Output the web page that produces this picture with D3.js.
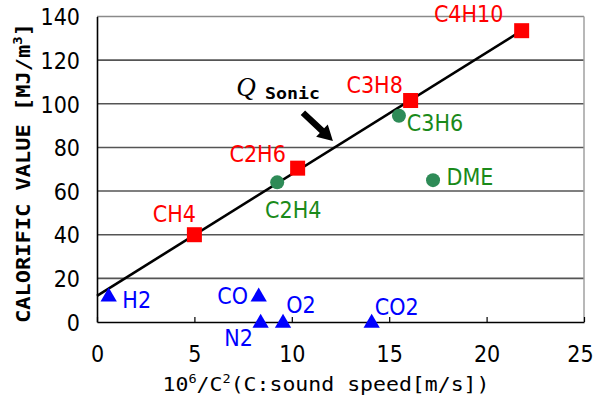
<!DOCTYPE html>
<html><head><meta charset="utf-8">
<script src="https://cdn.jsdelivr.net/npm/d3@7"></script>
<style>html,body{margin:0;padding:0;background:#fff;}svg{display:block;}</style>
</head><body>
<svg id="chart" width="595" height="401"></svg>
<script>
// ---- data ----
const squareGases = ["CH4","C2H6","C3H8","C4H10"];
const squareX = [5.0, 10.3, 16.1, 21.8];
const squareY = [40, 70.5, 101.5, 133.5];
const circleGases = ["C2H4","C3H6","DME"];
const circleX = [9.25, 15.5, 17.25];
const circleY = [64, 94.5, 65];
const triGases = ["H2","CO","N2","O2","CO2"];
const triX = [0.6, 8.3, 8.4, 9.55, 14.1];
const triY = [11.5, 11.5, -0.5, -0.5, -0.5];
const fitX = [0, 21.8];
const fitY = [12, 133.5];
const xTicks = [0,5,10,15,20,25];
const yTicks = [0,20,40,60,80,100,120,140];
// label offsets (px) relative to their markers
const squareLabelDx = [-20,-40,-36,-53], squareLabelDy = [-13,-6,-8,-9];
const circleLabelDx = [16,36,37], circleLabelDy = [36,15,5];
const triLabelDx = [28,-26,-22,18,25], triLabelDy = [11,7,23,-10,-8];

const svg = d3.select("#chart");
const x = d3.scaleLinear().domain([0,25]).range([97,584]);
const y = d3.scaleLinear().domain([0,140]).range([322,16.5]);
const labFont = "'Liberation Sans Narrow','DejaVu Sans Condensed',sans-serif";

// grid
svg.append("g").selectAll("line").data(yTicks.filter(d=>d>0)).join("line")
  .attr("x1",x(0)).attr("x2",x(25)).attr("y1",d=>y(d)).attr("y2",d=>y(d))
  .attr("stroke",d=>d===140?"#8a8a8a":"#555").attr("stroke-width",1.6);
// right border
svg.append("line").attr("x1",x(25)).attr("x2",x(25)).attr("y1",y(140)).attr("y2",y(0))
  .attr("stroke","#a0a0a0").attr("stroke-width",1.5);

// axes
const xAxis = svg.append("g").attr("transform",`translate(0,${y(0)})`)
  .call(d3.axisBottom(x).tickValues(xTicks).tickSizeInner(-5).tickSizeOuter(0).tickPadding(24));
xAxis.select(".domain").attr("stroke","#000").attr("stroke-width",1.6);
xAxis.selectAll(".tick line").attr("stroke","#000").attr("stroke-width",1.2);
xAxis.selectAll(".tick text").attr("font-family",labFont).attr("font-size",23).attr("fill","#000")
  .attr("dx",d=>d===25?"-4":"0");
const yAxis = svg.append("g").attr("transform",`translate(${x(0)},0)`)
  .call(d3.axisLeft(y).tickValues(yTicks).tickSizeInner(0).tickSizeOuter(0).tickPadding(17));
yAxis.select(".domain").attr("stroke","#000").attr("stroke-width",1.6);
yAxis.selectAll(".tick text").attr("font-family",labFont).attr("font-size",23).attr("fill","#000").attr("dy","0.36em");

// fit line
svg.append("path").datum(fitX.map((d,i)=>[d,fitY[i]]))
  .attr("d",d3.line().x(d=>x(d[0])).y(d=>y(d[1])))
  .attr("stroke","#000").attr("stroke-width",2.6).attr("fill","none");

// markers
svg.append("g").selectAll("path").data(triX.map((d,i)=>[d,triY[i]])).join("path")
  .attr("d",d3.symbol().type(d3.symbolTriangle).size(115))
  .attr("transform",d=>`translate(${x(d[0])},${y(d[1])})`).attr("fill","#0000ff");
svg.append("g").selectAll("circle").data(circleX.map((d,i)=>[d,circleY[i]])).join("circle")
  .attr("cx",d=>x(d[0])).attr("cy",d=>y(d[1])).attr("r",7).attr("fill","#2e8b57");
svg.append("g").selectAll("rect").data(squareX.map((d,i)=>[d,squareY[i]])).join("rect")
  .attr("x",d=>x(d[0])-7.5).attr("y",d=>y(d[1])-7.5).attr("width",15).attr("height",15).attr("fill","#ff0000");

// labels
function labels(names, xs, ys, dxs, dys, color){
  svg.append("g").selectAll("text").data(names).join("text")
    .attr("x",(d,i)=>x(xs[i])+dxs[i]).attr("y",(d,i)=>y(ys[i])+dys[i])
    .attr("text-anchor","middle").attr("font-family",labFont).attr("font-size",23)
    .attr("fill",color).text(d=>d);
}
labels(squareGases,squareX,squareY,squareLabelDx,squareLabelDy,"#ff0000");
labels(circleGases,circleX,circleY,circleLabelDx,circleLabelDy,"#1a8a1a");
labels(triGases,triX,triY,triLabelDx,triLabelDy,"#0000ff");

// Q Sonic annotation
svg.append("text").attr("x",x(7.15)).attr("y",y(103.5))
  .attr("font-family","'Liberation Serif',serif").attr("font-style","italic")
  .attr("font-size",27).attr("fill","#000").text("Q");
svg.append("text").attr("x",x(8.62)).attr("y",y(102.3))
  .attr("font-family","'DejaVu Sans Mono',monospace").attr("font-weight","bold")
  .attr("font-size",15).attr("textLength",55).attr("lengthAdjust","spacingAndGlyphs")
  .attr("fill","#000").text("Sonic");
// arrow
const aFrom=[10.57,95.9], aTo=[12.11,83.0];
(function(){
  const x1=x(aFrom[0]),y1=y(aFrom[1]),x2=x(aTo[0]),y2=y(aTo[1]);
  const ang=Math.atan2(y2-y1,x2-x1), L=Math.hypot(x2-x1,y2-y1);
  const hw=3.2, hl=15, hh=8.5;
  const pts=[[0,-hw],[L-hl,-hw],[L-hl,-hh],[L,0],[L-hl,hh],[L-hl,hw],[0,hw]];
  svg.append("polygon").attr("points",pts.map(p=>p.join(",")).join(" "))
    .attr("transform",`translate(${x1},${y1}) rotate(${ang*180/Math.PI})`).attr("fill","#000");
})();

// axis titles
const xt = svg.append("text").attr("x",326).attr("y",391).attr("text-anchor","middle")
  .attr("font-family","'DejaVu Sans Mono',monospace").attr("font-size",19)
  .attr("textLength",327).attr("lengthAdjust","spacingAndGlyphs").attr("fill","#000");
xt.append("tspan").text("10");
xt.append("tspan").attr("dy",-8).attr("font-size",12).text("6");
xt.append("tspan").attr("dy",8).text("/C");
xt.append("tspan").attr("dy",-8).attr("font-size",12).text("2");
xt.append("tspan").attr("dy",8).text("(C:sound speed[m/s])");

const yt = svg.append("text").attr("transform","translate(30,173) rotate(-90)").attr("text-anchor","middle")
  .attr("font-family","'DejaVu Sans Mono',monospace").attr("font-weight","bold").attr("font-size",19)
  .attr("textLength",300).attr("lengthAdjust","spacingAndGlyphs").attr("fill","#000");
yt.append("tspan").text("CALORIFIC VALUE [MJ/m");
yt.append("tspan").attr("dy",-8).attr("font-size",12).text("3");
yt.append("tspan").attr("dy",8).text("]");
</script>
</body></html>
